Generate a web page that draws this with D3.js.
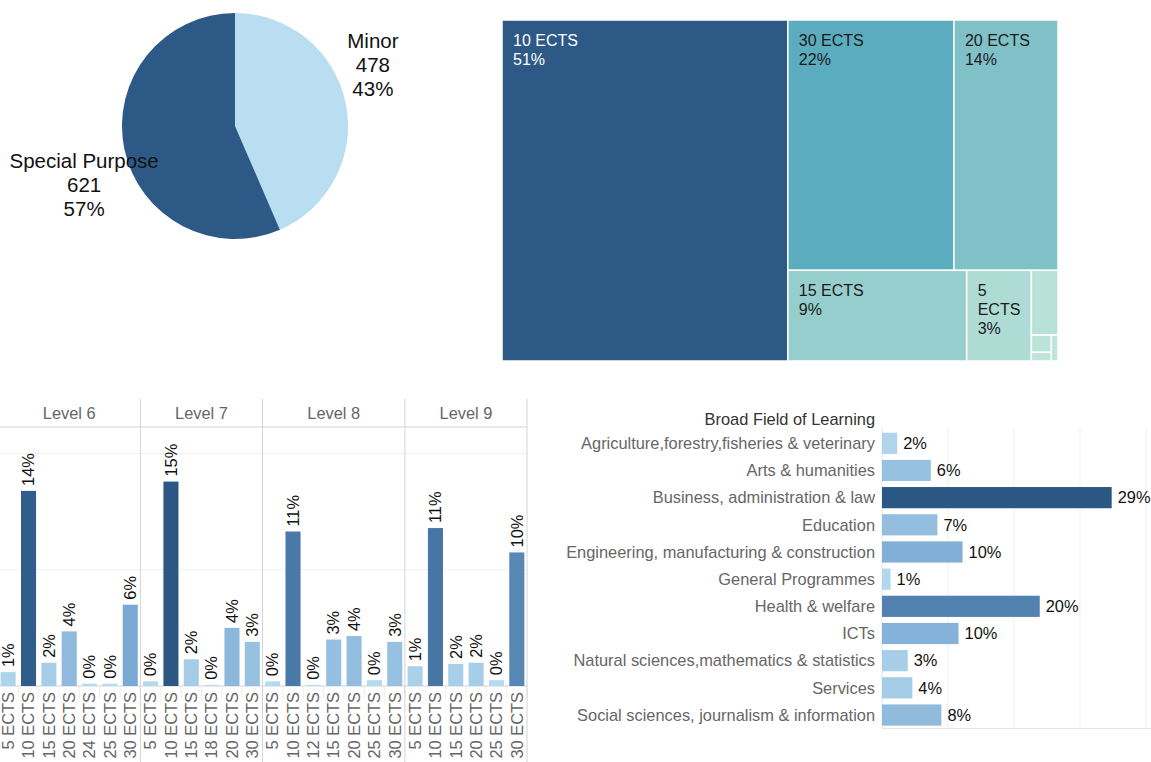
<!DOCTYPE html>
<html>
<head>
<meta charset="utf-8">
<script src="https://cdn.jsdelivr.net/npm/d3@7"></script>
<style>
body { margin: 0; background: #fff; }
svg { display: block; font-family: Arial, "Liberation Sans", sans-serif; }
</style>
</head>
<body>
<svg id="chart" width="1151" height="762"></svg>
<script>
// award type (pie)
const awardTypes = ["Minor", "Special Purpose"];
const awardCounts = [478, 621];
const awardColors = ["#b9ddf1", "#2d5986"];

// credit size (treemap)
const creditNames = ["10 ECTS", "30 ECTS", "20 ECTS", "15 ECTS", "5 ECTS", "25 ECTS", "12 ECTS", "18 ECTS", "24 ECTS"];
const creditCounts = [565, 241, 151, 94, 34, 10, 2, 1, 1];

// credit size by NFQ level (column panels)
const levels = ["Level 6", "Level 7", "Level 8", "Level 9"];
const levelCredits = [
    ["5 ECTS", "10 ECTS", "15 ECTS", "20 ECTS", "24 ECTS", "25 ECTS", "30 ECTS"],
    ["5 ECTS", "10 ECTS", "15 ECTS", "18 ECTS", "20 ECTS", "30 ECTS"],
    ["5 ECTS", "10 ECTS", "12 ECTS", "15 ECTS", "20 ECTS", "25 ECTS", "30 ECTS"],
    ["5 ECTS", "10 ECTS", "15 ECTS", "20 ECTS", "25 ECTS", "30 ECTS"]
];
const levelCounts = [
    [12, 168, 20, 47, 2, 2, 70],
    [4, 176, 23, 1, 50, 38],
    [4, 133, 1, 40, 43, 5, 38],
    [17, 136, 19, 20, 5, 115]
];
const levelGridTicks = [100, 200];

// broad field of learning (horizontal bars)
const fields = [
    "Agriculture,forestry,fisheries & veterinary",
    "Arts & humanities",
    "Business, administration & law",
    "Education",
    "Engineering, manufacturing & construction",
    "General Programmes",
    "Health & welfare",
    "ICTs",
    "Natural sciences,mathematics & statistics",
    "Services",
    "Social sciences, journalism & information"
];
const fieldCounts = [23, 74, 348, 84, 122, 13, 239, 116, 39, 46, 90];
const fieldGridTicks = [0, 100, 200, 300, 400];

const svg = d3.select("#chart");
const pct = (v, total) => Math.round(v / total * 100) + "%";
const fs = 16.4;

// ---------- pie ----------
function drawPie() {
    const cx = 235, cy = 126, r = 113;
    const total = d3.sum(awardCounts);
    const data = awardTypes.map((name, i) => ({ name, value: awardCounts[i], color: awardColors[i] }));

    const g = svg.append("g").attr("transform", `translate(${cx},${cy})`);
    const arcs = d3.pie().sort(null).value(d => d.value)(data);
    const arc = d3.arc().innerRadius(0).outerRadius(r);
    const labelArc = d3.arc().innerRadius(150).outerRadius(150);

    g.selectAll("path").data(arcs).join("path")
        .attr("d", arc)
        .attr("fill", d => d.data.color);

    const lab = g.selectAll("text").data(arcs).join("text")
        .attr("text-anchor", "middle")
        .attr("font-size", 20.5)
        .attr("fill", "#111")
        .attr("transform", d => {
            const [x, y] = labelArc.centroid(d);
            return `translate(${x - (x > 0 ? 9 : 4)},${y + (x > 0 ? -31 : 28)})`;
        });
    lab.each(function(d) {
        const t = d3.select(this);
        [d.data.name, d.data.value, pct(d.data.value, total)].forEach((s, i) => {
            t.append("tspan").attr("x", 0).attr("y", (i - 1) * 24).attr("dy", "0.35em").text(s);
        });
    });
}

// ---------- treemap ----------
function drawTreemap() {
    const x0 = 502, y0 = 20, w = 556, h = 341;
    const total = d3.sum(creditCounts);
    const root = d3.hierarchy({ children: creditNames.map((n, i) => ({ name: n, value: creditCounts[i] })) })
        .sum(d => d.value || 0)
        .sort((a, b) => b.value - a.value);
    d3.treemap().size([w, h]).tile(d3.treemapSquarify)(root);

    const maxV = d3.max(creditCounts);
    const color = d3.scaleLinear()
        .domain([0, maxV / 2, maxV])
        .range(["#bce4d8", "#49a2b9", "#2c5985"]);

    const g = svg.append("g").attr("transform", `translate(${x0},${y0})`);
    const cell = g.selectAll("g").data(root.leaves()).join("g")
        .attr("transform", d => `translate(${d.x0},${d.y0})`);

    cell.append("rect")
        .attr("width", d => d.x1 - d.x0)
        .attr("height", d => d.y1 - d.y0)
        .attr("fill", d => color(d.value))
        .attr("stroke", "#fff")
        .attr("stroke-width", 1.5);

    cell.filter(d => d.value / total >= 0.025).each(function(d) {
        const cw = d.x1 - d.x0;
        const t = d3.select(this).append("text")
            .attr("font-size", 16)
            .attr("fill", d.value === maxV ? "#fff" : "#1a1a1a");
        // wrap name words when the cell is narrow
        let lines = [d.data.name];
        if (cw < 90) lines = d.data.name.split(" ");
        lines.push(pct(d.value, total));
        lines.forEach((s, i) => {
            t.append("tspan").attr("x", 11).attr("y", 26 + i * 19).text(s);
        });
    });
}

// ---------- columns by level ----------
function drawLevels() {
    const left = -2, right = 527, top = 399, headBottom = 427, base = 686, bottom = 762;
    const keys = [];
    levels.forEach((lv, i) => levelCredits[i].forEach((c, j) => keys.push({ key: lv + "|" + c, level: i, credit: c, value: levelCounts[i][j] })));
    const total = d3.sum(keys, d => d.value);

    const x = d3.scaleBand().domain(keys.map(d => d.key)).range([left, right]).paddingInner(0.26).paddingOuter(0.13);
    const y = d3.scaleLinear().domain([0, 223]).range([base, headBottom]);
    const maxV = d3.max(keys, d => d.value);
    const color = d3.scaleLinear().domain([0, maxV / 2, maxV]).range(["#b9ddf1", "#6a9ccb", "#2a5783"]);
    const step = x.step();

    const g = svg.append("g");

    // gridlines
    g.selectAll(".grid").data(levelGridTicks).join("line")
        .attr("x1", 0).attr("x2", right)
        .attr("y1", d => y(d)).attr("y2", d => y(d))
        .attr("stroke", "#efefef");

    // small separators under the axis
    g.selectAll(".tick").data(d3.range(keys.length + 1)).join("line")
        .attr("x1", i => left + i * step).attr("x2", i => left + i * step)
        .attr("y1", base).attr("y2", base + 12)
        .attr("stroke", "#eeeeee");

    // header row and baseline
    g.append("line").attr("x1", 0).attr("x2", right).attr("y1", headBottom).attr("y2", headBottom).attr("stroke", "#d4d4d4");
    g.append("line").attr("x1", 0).attr("x2", right).attr("y1", base).attr("y2", base).attr("stroke", "#d4d4d4");

    // panel separators
    let count = 0;
    const bounds = levels.map((lv, i) => {
        const a = left + count * step;
        count += levelCredits[i].length;
        return { lv, a, b: left + count * step };
    });
    g.selectAll(".sep").data(bounds).join("line")
        .attr("x1", d => d.b).attr("x2", d => d.b)
        .attr("y1", top).attr("y2", bottom)
        .attr("stroke", "#d4d4d4");

    g.selectAll(".head").data(bounds).join("text")
        .attr("x", d => (d.a + d.b) / 2).attr("y", (top + headBottom) / 2)
        .attr("dy", "0.35em").attr("text-anchor", "middle")
        .attr("font-size", fs).attr("fill", "#666")
        .text(d => d.lv);

    g.selectAll(".bar").data(keys).join("rect")
        .attr("x", d => x(d.key))
        .attr("width", x.bandwidth())
        .attr("y", d => y(d.value))
        .attr("height", d => base - y(d.value))
        .attr("fill", d => color(d.value));

    g.selectAll(".val").data(keys).join("text")
        .attr("transform", d => `translate(${x(d.key) + x.bandwidth() / 2},${y(d.value) - 5}) rotate(-90)`)
        .attr("dy", "0.35em")
        .attr("font-size", fs).attr("fill", "#111")
        .text(d => pct(d.value, total));

    g.selectAll(".xl").data(keys).join("text")
        .attr("transform", d => `translate(${x(d.key) + x.bandwidth() / 2},${base + 6}) rotate(-90)`)
        .attr("dy", "0.35em").attr("text-anchor", "end")
        .attr("font-size", fs).attr("fill", "#666")
        .text(d => d.credit);
}

// ---------- field of learning ----------
function drawFields() {
    const axisX = 882, top = 429.7, bottom = 728.6, labelX = 875;
    const total = d3.sum(fieldCounts);
    const data = fields.map((f, i) => ({ name: f, value: fieldCounts[i] }));

    const x = d3.scaleLinear().domain([0, 400]).range([axisX, 1146]);
    const y = d3.scaleBand().domain(fields).range([top, bottom]).paddingInner(0.22).paddingOuter(0.11);
    const maxV = d3.max(fieldCounts);
    const color = d3.scaleLinear().domain([0, maxV / 2, maxV]).range(["#b9ddf1", "#6a9ccb", "#2a5783"]);

    const g = svg.append("g");

    g.selectAll(".grid").data(fieldGridTicks).join("line")
        .attr("x1", d => x(d)).attr("x2", d => x(d))
        .attr("y1", top - 2).attr("y2", bottom)
        .attr("stroke", d => d === 0 ? "#e4e4e4" : "#efefef");
    g.append("line").attr("x1", axisX).attr("x2", 1151).attr("y1", bottom).attr("y2", bottom).attr("stroke", "#e4e4e4");

    g.append("text")
        .attr("x", labelX).attr("y", 419).attr("dy", "0.35em")
        .attr("text-anchor", "end").attr("font-size", fs).attr("fill", "#333")
        .text("Broad Field of Learning");

    g.selectAll(".bar").data(data).join("rect")
        .attr("x", axisX)
        .attr("y", d => y(d.name))
        .attr("width", d => x(d.value) - axisX)
        .attr("height", y.bandwidth())
        .attr("fill", d => color(d.value));

    g.selectAll(".cat").data(data).join("text")
        .attr("x", labelX).attr("y", d => y(d.name) + y.bandwidth() / 2)
        .attr("dy", "0.35em").attr("text-anchor", "end")
        .attr("font-size", fs).attr("fill", "#666")
        .text(d => d.name);

    g.selectAll(".val").data(data).join("text")
        .attr("x", d => x(d.value) + 6).attr("y", d => y(d.name) + y.bandwidth() / 2)
        .attr("dy", "0.35em")
        .attr("font-size", fs).attr("fill", "#111")
        .text(d => pct(d.value, total));
}

drawPie();
drawTreemap();
drawLevels();
drawFields();
</script>
</body>
</html>
